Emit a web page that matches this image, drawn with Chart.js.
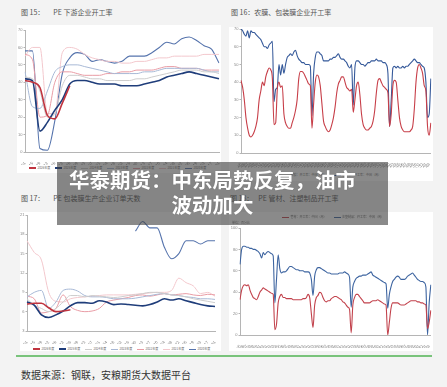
<!DOCTYPE html>
<html><head><meta charset="utf-8">
<script src="https://cdn.jsdelivr.net/npm/chart.js@4.4.1/dist/chart.umd.min.js"></script>
<style>
html,body{margin:0;padding:0;background:#f3f3f3;width:447px;height:387px;overflow:hidden;font-family:"Noto Sans CJK SC","Noto Sans",sans-serif;}
.box{position:absolute;background:#fff;}
.cw{position:absolute;}
.title{position:absolute;font-size:7px;color:#555;white-space:pre;line-height:9px;}
.lg{position:absolute;display:flex;align-items:center;font-size:3px;color:#666;white-space:nowrap;line-height:4px;}
.lg span{display:flex;align-items:center;}
.lg i{display:inline-block;width:7px;margin-right:1.5px;}
#overlay{position:absolute;left:57px;top:162px;width:331px;height:63px;background:rgba(60,60,60,0.6);z-index:10;}
#otext{position:absolute;left:57px;top:167px;width:311px;text-align:center;color:#fff;font-weight:bold;font-size:20.5px;line-height:25px;z-index:11;font-family:"Noto Sans CJK SC",sans-serif;text-shadow:0 0 1px rgba(0,0,0,0.3);}
#green{position:absolute;left:16px;top:355px;width:416px;height:2px;background:#79c37b;}
#foot{position:absolute;left:21px;top:368px;font-size:10px;color:#333;line-height:14px;white-space:nowrap;}
</style></head>
<body>
<div class="box" style="left:17px;top:25px;width:204px;height:148px;"></div>
<div class="box" style="left:229px;top:27px;width:204px;height:154px;"></div>
<div class="box" style="left:20px;top:212px;width:201px;height:139px;"></div>
<div class="box" style="left:229px;top:212px;width:204px;height:139px;"></div>

<div class="title" style="left:21px;top:8px;">图 15：<span style="margin-left:9px">PE 下游企业开工率</span></div>
<div class="title" style="left:231px;top:8px;">图 16：农膜、包装膜企业开工率</div>
<div class="title" style="left:21px;top:194px;">图 17：<span style="margin-left:9px">PE 包装膜生产企业订单天数</span></div>
<div class="title" style="left:230px;top:194px;">图 18：<span style="margin-left:5px">PE 管材、注塑制品开工率</span></div>

<div class="cw" style="left:12px;top:20px;width:212px;height:145px;"><canvas id="c1"></canvas></div>
<div class="cw" style="left:224px;top:22px;width:212px;height:146px;"><canvas id="c2"></canvas></div>
<div class="cw" style="left:12px;top:208px;width:212px;height:136px;"><canvas id="c3"></canvas></div>
<div class="cw" style="left:224px;top:222px;width:212px;height:126px;"><canvas id="c4"></canvas></div>

<div class="lg" id="lg1" style="left:29px;top:166px;"></div>
<div class="lg" id="lg3" style="left:33px;top:347px;"></div>
<div class="lg" id="lg2" style="left:282px;top:173px;"></div>
<div class="lg" id="lg4" style="left:282px;top:215px;"></div>
<div style="position:absolute;left:232px;top:221px;font-size:3px;color:#777;line-height:4px;">单位：百分比</div>

<div id="green"></div>
<div id="foot">数据来源：钢联，安粮期货大数据平台</div>
<div id="overlay"></div>
<div id="otext">华泰期货：中东局势反复，油市<br>波动加大</div>

<script>
// ---------- categories ----------
const weekLabels = ['01-01','01-15','01-29','02-12','02-26','03-12','03-26','04-09','04-23','05-07','05-21','06-04','06-18','07-02','07-16','07-30','08-13','08-27','09-10','09-24','10-08','10-22','11-05','11-19','12-03','12-17','12-31'];
const monthLabels = ['2021-05','2021-06','2021-07','2021-08','2021-09','2021-10','2021-11','2021-12',
 '2022-01','2022-02','2022-03','2022-04','2022-05','2022-06','2022-07','2022-08','2022-09','2022-10','2022-11','2022-12',
 '2023-01','2023-02','2023-03','2023-04','2023-05','2023-06','2023-07','2023-08','2023-09','2023-10','2023-11','2023-12',
 '2024-01','2024-02','2024-03','2024-04','2024-05','2024-06','2024-07','2024-08','2024-09','2024-10','2024-11','2024-12',
 '2025-01','2025-02','2025-03','2025-04','2025-05','2025-06','2025-07','2025-08','2025-09','2025-10','2025-11','2025-12',
 '2026-01','2026-02'];
const yearNames = ['2026年度','2025年度','2024年度','2023年度','2022年度','2021年度','2020年度'];

// ---------- 图15 PE 下游企业开工率 ----------
const p1_2026 = [41,40,37,21,19,28,38,null,null,null,null,null,null,null,null,null,null,null,null,null,null,null,null,null,null,null,null];
const p1_2025 = [42,41,12,17,24,30,39,41,41,40,39,39,39,38,38,38,39,40,41,43,44,45,46,45,44,43,42];
const p1_2024 = [43,42,35,20,22,38,44,44,43,42,42,41,41,41,41,42,42,43,44,45,46,47,47,47,46,46,45];
const p1_2023 = [46,26,25,35,46,49,50,50,49,48,47,46,45,45,45,45,46,46,47,48,48,48,48,48,47,46,46];
const p1_2022 = [56,53,20,21,40,46,46,45,44,44,44,45,45,46,46,47,47,47,48,49,49,48,48,48,47,47,47];
const p1_2021 = [55,60,60,22,22,57,60,59,56,54,53,52,52,51,51,52,52,53,54,54,55,55,55,55,56,56,56];
const p1_2020 = [58,58,2,1,18,45,54,57,56,52,53,52,51,52,55,55,55,57,60,63,62,65,66,64,61,59,51];

// ---------- 图16 农膜、包装膜企业开工率 ----------
const agriFilm = [41,37,30,20,14,10,9,10,12,15,20,30,35,40,38,43,46,48,47,42,16,17,36,40,37,38,22,17,15,14,
 14,17,20,24,30,42,46,46,45,43,41,39,38,14,28,40,44,43,38,28,18,15,13,12,13,16,20,26,34,39,
 41,43,43,40,37,36,35,36,23,30,38,40,33,22,16,14,13,13,14,15,18,24,34,41,42,40,38,37,36,34,
 15,22,38,41,40,30,20,15,13,12,12,12,12,13,15,25,40,48,50,48,45,38,35,15,10,17];
const packFilm = [70,69,67,66,69,65,69,68,68,67,66,65,64,62,60,60,59,61,62,63,29,36,37,50,44,50,45,50,54,55,
 56,55,57,58,55,53,52,51,51,50,50,50,49,21,45,54,57,57,56,55,52,52,52,52,53,53,54,54,55,56,
 54,53,53,52,51,49,48,50,27,48,52,52,51,50,50,49,50,51,51,52,52,52,53,52,52,52,51,51,50,45,
 15,30,48,49,48,49,48,48,49,48,49,49,50,51,52,53,52,51,51,50,49,48,40,20,22,42];

// ---------- 图17 PE 包装膜生产企业订单天数 ----------
const p3_2026 = [7.2,7.3,7.3,6.6,6.0,6.1,6.3,null,null,null,null,null,null,null,null,null,null,null,null,null,null,null,null,null,null,null,null];
const p3_2025 = [7.5,7.0,5.5,5.1,5.5,6.1,6.9,7.4,7.4,7.3,7.7,7.5,7.1,7.2,7.1,7.0,6.9,7.1,7.5,8.0,7.8,8.0,7.7,7.4,7.1,6.9,6.8];
const p3_2024 = [8.0,7.0,6.5,6.0,6.5,7.5,8.5,8.5,8.3,8.5,8.4,8.3,8.2,8.3,8.5,8.6,8.8,9.0,9.0,8.8,8.6,8.5,8.3,8.0,7.8,7.6,7.4];
const p3_2023 = [8.3,9.0,9.3,6.5,7.5,9.3,9.5,9.2,8.5,8.3,8.3,8.2,8.0,8.0,8.0,8.1,8.3,8.5,8.7,8.8,8.6,8.5,8.3,8.2,8.0,8.0,7.9];
const p3_2022 = [8.4,8.0,5.8,6.0,6.5,8.6,6.8,6.2,6.0,6.1,6.5,7.5,7.8,8.0,8.2,8.5,8.6,8.4,8.6,8.8,8.6,8.7,8.8,8.6,8.5,8.7,8.6];
const p3_2021 = [17.0,15.2,14.0,9.0,7.6,7.5,8.0,8.2,8.3,8.4,8.5,8.6,8.6,8.6,8.6,8.7,8.8,8.9,9.0,9.0,9.3,11.2,10.5,10.0,8.8,9.0,8.4];
const p3_2020 = [null,null,null,null,null,null,null,null,null,null,null,null,null,null,null,18.5,20.0,19.0,19.0,16.0,14.2,15.0,17.0,17.0,16.5,17.0,17.0];

// ---------- 图18 PE 管材、注塑制品开工率 ----------
const pipeRate = [33,42,46,47,46,47,42,38,35,34,33,36,40,42,44,43,42,41,40,39,38,5,10,30,36,38,35,35,34,34,
 34,34,33,33,33,33,33,33,34,34,35,38,35,20,7,28,35,37,40,39,35,32,31,32,32,34,35,36,36,35,
 34,33,31,30,28,26,24,2,28,35,38,38,36,34,32,30,30,30,30,31,32,32,32,33,32,31,30,29,28,0,
 12,25,30,30,30,30,29,28,28,28,29,30,31,32,32,32,32,31,31,30,30,29,28,6,12,23];
const injRate = [66,80,83,83,82,82,81,81,80,80,79,78,76,72,77,75,77,78,77,76,74,30,52,75,62,58,59,59,60,62,
 64,64,63,62,61,61,60,60,60,59,59,59,58,52,37,55,61,63,63,62,61,60,59,58,58,57,57,57,57,57,
 58,58,58,59,58,57,54,26,45,50,53,54,55,55,56,56,56,57,58,59,56,55,54,53,52,51,50,49,48,25,
 38,45,50,52,54,55,54,52,52,52,53,55,56,57,58,56,54,52,51,50,50,49,45,0,30,47];

// ---------- helpers ----------
const halfMonthLabels = monthLabels.flatMap(m => [m, m]);
const colors = {r26:'#c0343f', n25:'#1f3d7a', g24:'#cdcdcd', b23:'#a8b9d6', p22:'#e99ca5', lp21:'#f3c8cd', b20:'#5674ad'};

function ds(label, data, color, w, tension){
  return {label, data, borderColor:color, backgroundColor:color, borderWidth:w, pointRadius:0,
    tension: tension, cubicInterpolationMode: tension > 0 ? 'monotone' : 'default', fill:false, spanGaps:false};
}
function yAx(min,max,step,w){
  return {min,max,
    ticks:{stepSize:step,font:{size:4},color:'#888',padding:1},
    grid:{display:true,drawOnChartArea:false,drawTicks:true,tickLength:1.5,color:'#b5b5b5'},
    border:{display:true,color:'#b5b5b5'},
    afterFit(s){ s.width = w; }};
}
function xAx(h,rot,every){
  return {
    ticks:{font:{size:4},color:'#777',autoSkip:false,maxRotation:rot,minRotation:rot,padding:1,
      callback(v,i){ return i % every === 0 ? this.getLabelForValue(v) : ''; }},
    grid:{display:false},
    border:{display:true,color:'#b5b5b5'},
    afterFit(s){ s.height = h; }};
}
function mk(id, labels, datasets, y, x, pad){
  new Chart(document.getElementById(id), {
    type:'line',
    data:{labels, datasets},
    options:{
      responsive:true, maintainAspectRatio:false, animation:false, devicePixelRatio:1,
      layout:{padding:pad},
      plugins:{legend:{display:false}, tooltip:{enabled:false}},
      scales:{x, y}
    }
  });
}

mk('c1', weekLabels, [
  ds(yearNames[0], p1_2026, colors.r26, 1.6, 0.4),
  ds(yearNames[1], p1_2025, colors.n25, 1.6, 0.4),
  ds(yearNames[2], p1_2024, colors.g24, 1, 0.4),
  ds(yearNames[3], p1_2023, colors.b23, 1, 0.4),
  ds(yearNames[4], p1_2022, colors.p22, 1, 0.4),
  ds(yearNames[5], p1_2021, colors.lp21, 1, 0.4),
  ds(yearNames[6], p1_2020, colors.b20, 1.1, 0.4)
], yAx(0,70,10,13), xAx(13,50,1), {top:10,right:5,left:0,bottom:0});

mk('c2', halfMonthLabels, [
  ds('农膜：开工率：中国（周）', agriFilm, '#c73e48', 1.1, 0.2),
  ds('包装膜：开工率：中国（周）', packFilm, '#35599a', 1.1, 0.2)
], yAx(0,70,10,17), xAx(15,60,2), {top:7,right:4,left:0,bottom:0});

mk('c3', weekLabels, [
  ds(yearNames[0], p3_2026, colors.r26, 1.6, 0.4),
  ds(yearNames[1], p3_2025, colors.n25, 1.6, 0.4),
  ds(yearNames[2], p3_2024, colors.g24, 1, 0.4),
  ds(yearNames[3], p3_2023, colors.b23, 1, 0.4),
  ds(yearNames[4], p3_2022, colors.p22, 1, 0.4),
  ds(yearNames[5], p3_2021, colors.lp21, 1, 0.4),
  ds(yearNames[6], p3_2020, colors.b20, 1.1, 0.4)
], yAx(3,21,3,15), xAx(13,50,1), {top:7,right:9,left:0,bottom:0});

mk('c4', halfMonthLabels, [
  ds('管材：开工率：中国（周）', pipeRate, '#c2424c', 1.1, 0.2),
  ds('注塑制品：开工率：中国（周）', injRate, '#3d64a0', 1.1, 0.2)
], yAx(0,100,20,16), xAx(13,60,2), {top:6,right:4,left:0,bottom:0});

// ---------- HTML legends ----------
const yearColors = [colors.r26, colors.n25, colors.g24, colors.b23, colors.p22, colors.lp21, colors.b20];
function yearLegend(id){
  const el = document.getElementById(id);
  yearNames.forEach((n,i)=>{
    const s = document.createElement('span');
    s.style.width = '26px';
    s.innerHTML = '<i style="height:'+(i<2?1.5:1)+'px;background:'+yearColors[i]+'"></i>'+n;
    el.appendChild(s);
  });
}
function pairLegend(id, names, cols){
  const el = document.getElementById(id);
  names.forEach((n,i)=>{
    const s = document.createElement('span');
    s.style.marginRight = '7px';
    s.innerHTML = '<i style="height:1px;background:'+cols[i]+'"></i>'+n;
    el.appendChild(s);
  });
}
yearLegend('lg1'); yearLegend('lg3');
pairLegend('lg2', ['农膜：开工率：中国（周）','包装膜：开工率：中国（周）'], ['#c73e48','#35599a']);
pairLegend('lg4', ['管材：开工率：中国（周）','注塑制品：开工率：中国（周）'], ['#c2424c','#3d64a0']);
</script>
</body></html>
